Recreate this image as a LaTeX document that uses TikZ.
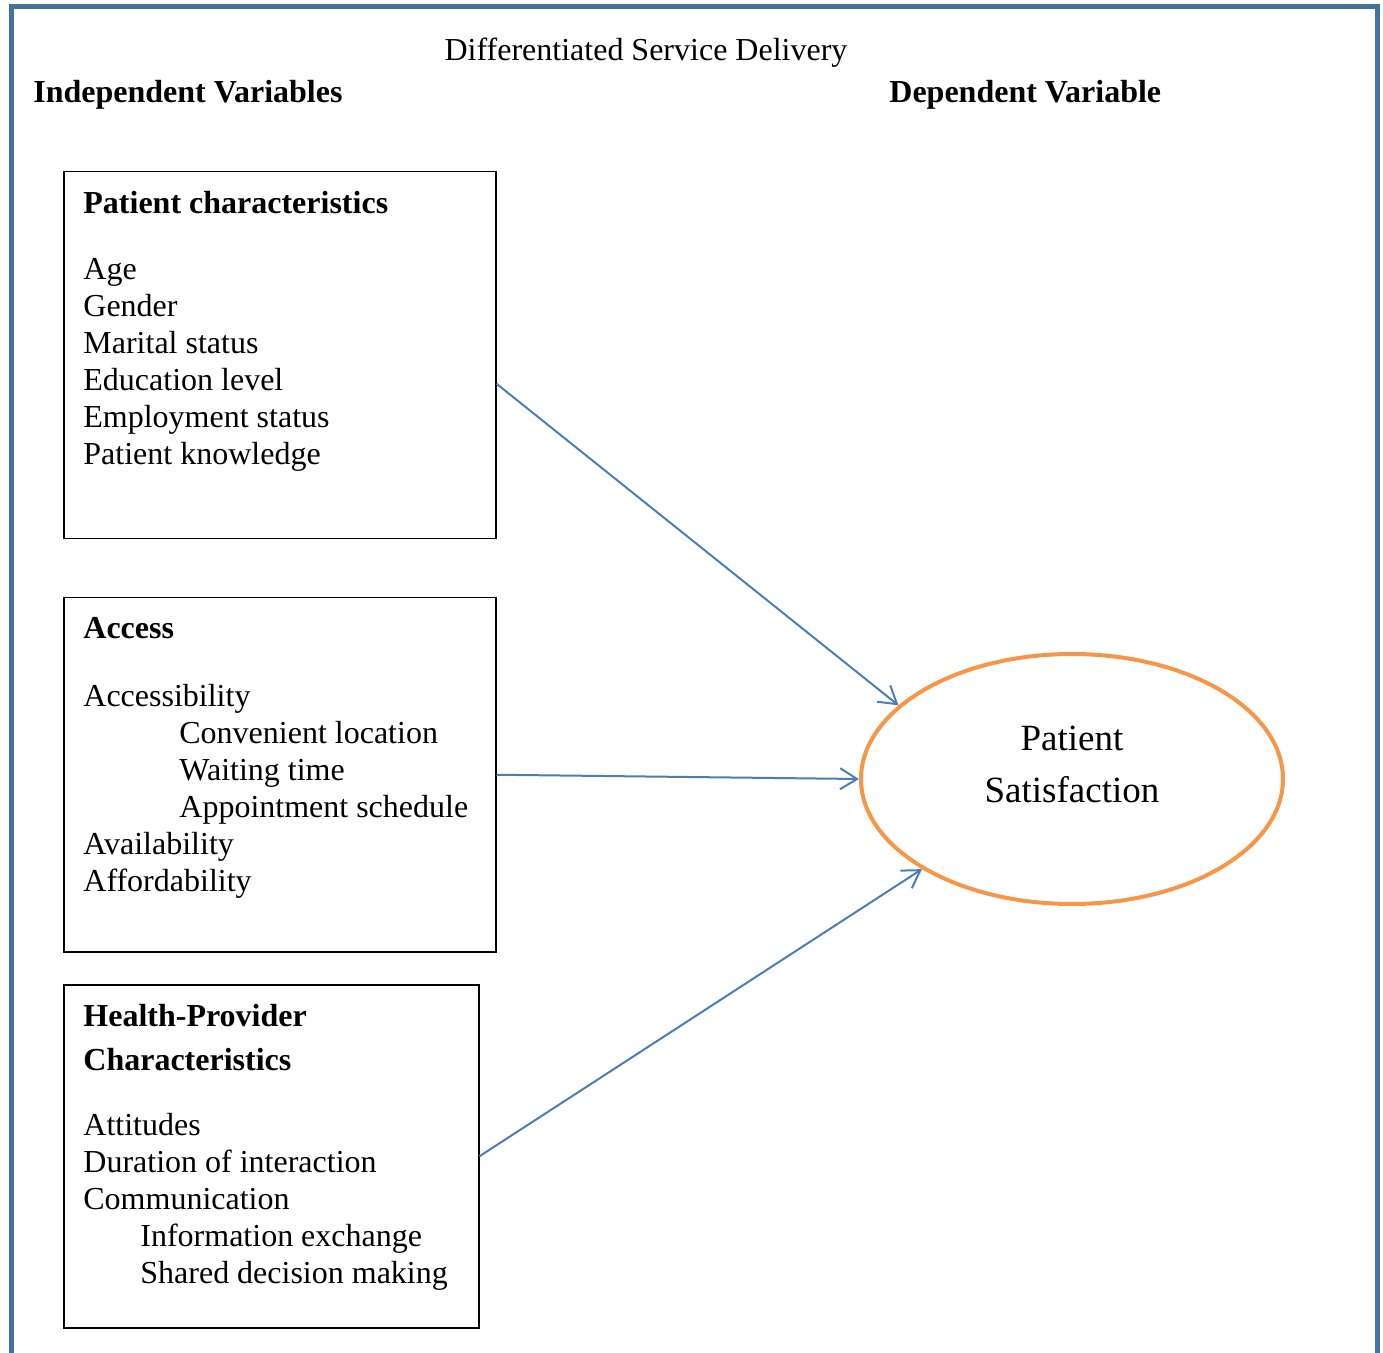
\documentclass[tikz,border=0pt]{standalone}
\usepackage{fontspec}
\setmainfont{Liberation Serif}
\usetikzlibrary{arrows.meta,positioning,shapes.geometric}
\definecolor{framec}{HTML}{44729F}
\definecolor{linkc}{HTML}{4A7EBB}
\definecolor{satc}{HTML}{F79646}

\begin{document}
\begin{tikzpicture}[x=0.5pt, y=-0.5pt,
  every node/.style={font=\fontsize{16pt}{18.5pt}\selectfont, inner sep=0pt},
  varbox/.style={draw, line width=0.75pt, anchor=north west},
  items/.style={align=left, anchor=base west},
  head/.style={font=\fontsize{16pt}{18.5pt}\selectfont\bfseries, anchor=base west},
  arr/.style={-{Straight Barb[length=8.5pt, width=10.5pt]}, linkc, line width=1pt}]
  \useasboundingbox (0,0) rectangle (1383,1353);
  \draw[framec, line width=2.5pt] (11,7) rectangle (1377,1355);

  % titles
  \node[anchor=base] (dsd) at (646,61) {Differentiated Service Delivery};
  \node[head] (indep) at (33,103) {Independent Variables};
  \node[head] (dep) at (889,103) {Dependent Variable};

  % variable boxes
  \node[varbox, minimum width=216pt, minimum height=183.5pt] (pcbox) at (63,171) {};
  \node[varbox, minimum width=216pt, minimum height=177pt] (accbox) at (63,597) {};
  \node[varbox, minimum width=207.5pt, minimum height=171.5pt] (hpbox) at (63,984) {};

  % base anchor sits on the last line
  \node[items] (pctext) at (83,465) {\textbf{Patient characteristics}\\[14.5pt]
    Age\\Gender\\Marital status\\Education level\\Employment status\\Patient knowledge};
  \node[items] (acctext) at (83,891) {\textbf{Access}\\[15.5pt]
    Accessibility\\
    \hspace*{48pt}Convenient location\\
    \hspace*{48pt}Waiting time\\
    \hspace*{48pt}Appointment schedule\\
    Availability\\Affordability};
  \node[items] (hptext) at (83,1283) {\textbf{Health-Provider}\\[3.5pt]
    \textbf{Characteristics}\\[14pt]
    Attitudes\\Duration of interaction\\Communication\\
    \hspace*{28.5pt}Information exchange\\
    \hspace*{28.5pt}Shared decision making};

  % outcome
  \node[ellipse, draw=satc, line width=2pt, minimum width=211pt, minimum height=125pt] (sat) at (1072,779) {};
  \node[align=center, anchor=base, font=\fontsize{18.5pt}{26pt}\selectfont] (sattext) at (1072,802) {Patient\\Satisfaction};

  \draw[arr] ([yshift=-14.25pt]pcbox.east) -- (sat.157);
  \draw[arr] (accbox.east) -- (sat.west);
  \draw[arr] (hpbox.east) -- (sat.211);
\end{tikzpicture}
\end{document}
